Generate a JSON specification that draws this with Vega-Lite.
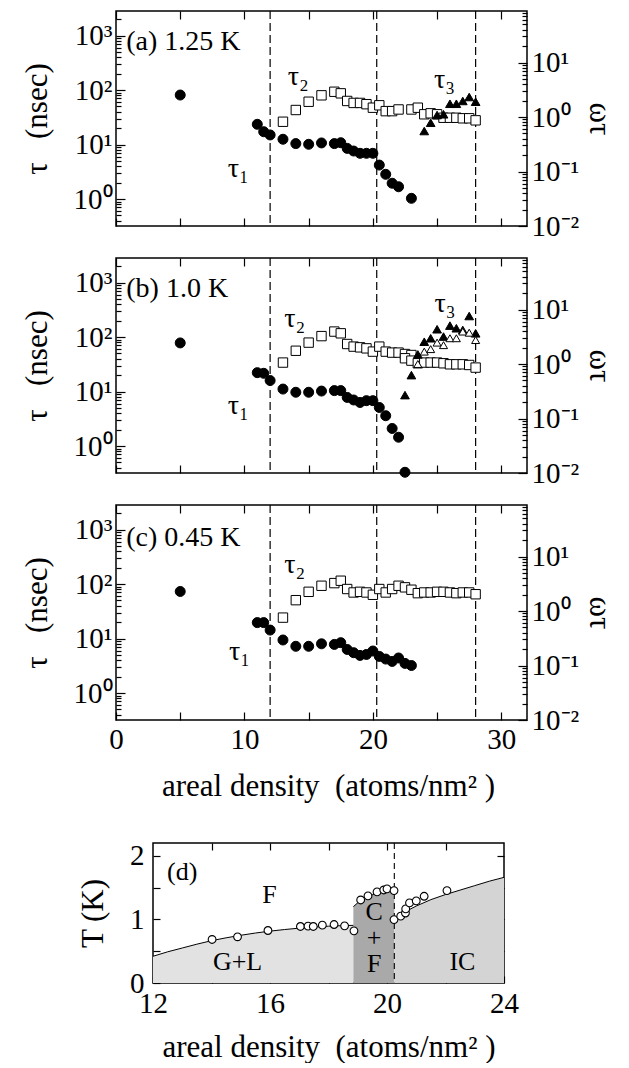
{
  "$schema": "https://vega.github.io/schema/vega-lite/v6.json",
  "background": "white",
  "padding": {"left": 20, "top": 9, "right": 0, "bottom": 0},
  "config": {
    "font": "Liberation Serif",
    "view": {"stroke": "black", "strokeWidth": 1.5},
    "axis": {
      "labelFont": "Liberation Serif", "titleFont": "Liberation Serif",
      "labelColor": "black", "titleColor": "black", "tickColor": "black",
      "grid": false, "domain": false, "titleFontWeight": "normal",
      "labelFontSize": 29, "titleFontSize": 31, "tickWidth": 1.2,
      "labelFlush": false, "labelOverlap": false
    },
    "title": {"font": "Liberation Serif", "fontSize": 31, "fontWeight": "normal", "color": "black"},
    "text": {"font": "Liberation Serif", "color": "black"}
  },
  "datasets": {
    "dash": [{"x": 12}, {"x": 20.3}, {"x": 28}],
    "dline": [{"x": 20.25}],
    "tau": [
      {"panel":"a","s":"t1","x":5,"tau":81},{"panel":"a","s":"t1","x":11,"tau":23.5},{"panel":"a","s":"t1","x":11.5,"tau":17.2},{"panel":"a","s":"t1","x":12,"tau":15},{"panel":"a","s":"t1","x":13,"tau":12.5},{"panel":"a","s":"t1","x":14,"tau":10.4},{"panel":"a","s":"t1","x":15,"tau":10.1},{"panel":"a","s":"t1","x":16,"tau":10.7},{"panel":"a","s":"t1","x":17,"tau":10.4},{"panel":"a","s":"t1","x":17.5,"tau":10.8},{"panel":"a","s":"t1","x":18,"tau":8.5},{"panel":"a","s":"t1","x":18.5,"tau":7.6},{"panel":"a","s":"t1","x":19,"tau":6.9},{"panel":"a","s":"t1","x":19.5,"tau":6.9},{"panel":"a","s":"t1","x":20,"tau":6.9},{"panel":"a","s":"t1","x":20.5,"tau":4.2},{"panel":"a","s":"t1","x":21,"tau":2.84},{"panel":"a","s":"t1","x":21.5,"tau":1.95},{"panel":"a","s":"t1","x":22,"tau":1.68},{"panel":"a","s":"t1","x":23,"tau":1.03},
      {"panel":"a","s":"t2","x":13,"tau":26.2},{"panel":"a","s":"t2","x":14,"tau":43},{"panel":"a","s":"t2","x":15,"tau":61},{"panel":"a","s":"t2","x":16,"tau":80},{"panel":"a","s":"t2","x":17,"tau":93},{"panel":"a","s":"t2","x":17.5,"tau":87},{"panel":"a","s":"t2","x":18,"tau":63},{"panel":"a","s":"t2","x":18.5,"tau":58},{"panel":"a","s":"t2","x":19,"tau":58},{"panel":"a","s":"t2","x":19.5,"tau":55},{"panel":"a","s":"t2","x":20,"tau":47.4},{"panel":"a","s":"t2","x":20.5,"tau":52.5},{"panel":"a","s":"t2","x":21,"tau":41},{"panel":"a","s":"t2","x":21.5,"tau":41},{"panel":"a","s":"t2","x":22,"tau":44},{"panel":"a","s":"t2","x":23,"tau":44},{"panel":"a","s":"t2","x":23.5,"tau":47.4},{"panel":"a","s":"t2","x":24,"tau":35.9},{"panel":"a","s":"t2","x":24.5,"tau":37.4},{"panel":"a","s":"t2","x":25,"tau":35.9},{"panel":"a","s":"t2","x":25.5,"tau":31},{"panel":"a","s":"t2","x":26,"tau":31},{"panel":"a","s":"t2","x":26.5,"tau":31},{"panel":"a","s":"t2","x":27,"tau":30.3},{"panel":"a","s":"t2","x":27.5,"tau":30.3},{"panel":"a","s":"t2","x":28,"tau":27.8},
      {"panel":"a","s":"t3","x":24,"tau":17.7},{"panel":"a","s":"t3","x":24.5,"tau":25.1},{"panel":"a","s":"t3","x":25,"tau":34.8},{"panel":"a","s":"t3","x":25.5,"tau":35.9},{"panel":"a","s":"t3","x":26,"tau":56},{"panel":"a","s":"t3","x":26.5,"tau":56},{"panel":"a","s":"t3","x":27,"tau":63},{"panel":"a","s":"t3","x":27.5,"tau":74.5},{"panel":"a","s":"t3","x":28,"tau":61},
      {"panel":"b","s":"t1","x":5,"tau":78},{"panel":"b","s":"t1","x":11,"tau":22.2},{"panel":"b","s":"t1","x":11.5,"tau":21.6},{"panel":"b","s":"t1","x":12,"tau":15.9},{"panel":"b","s":"t1","x":13,"tau":11.1},{"panel":"b","s":"t1","x":14,"tau":9.7},{"panel":"b","s":"t1","x":15,"tau":9.7},{"panel":"b","s":"t1","x":16,"tau":10.2},{"panel":"b","s":"t1","x":17,"tau":10.4},{"panel":"b","s":"t1","x":17.5,"tau":10.4},{"panel":"b","s":"t1","x":18,"tau":7.8},{"panel":"b","s":"t1","x":18.5,"tau":7.0},{"panel":"b","s":"t1","x":19,"tau":6.3},{"panel":"b","s":"t1","x":19.5,"tau":6.8},{"panel":"b","s":"t1","x":20,"tau":6.8},{"panel":"b","s":"t1","x":20.5,"tau":5.1},{"panel":"b","s":"t1","x":21,"tau":3.6},{"panel":"b","s":"t1","x":21.5,"tau":2.1},{"panel":"b","s":"t1","x":22,"tau":1.45},{"panel":"b","s":"t1","x":22.5,"tau":0.33},
      {"panel":"b","s":"t2","x":13,"tau":34},{"panel":"b","s":"t2","x":14,"tau":56},{"panel":"b","s":"t2","x":15,"tau":79},{"panel":"b","s":"t2","x":16,"tau":104},{"panel":"b","s":"t2","x":17,"tau":126},{"panel":"b","s":"t2","x":17.5,"tau":117},{"panel":"b","s":"t2","x":18,"tau":74.5},{"panel":"b","s":"t2","x":18.5,"tau":66.7},{"panel":"b","s":"t2","x":19,"tau":64.7},{"panel":"b","s":"t2","x":19.5,"tau":62},{"panel":"b","s":"t2","x":20,"tau":54},{"panel":"b","s":"t2","x":20.5,"tau":66.7},{"panel":"b","s":"t2","x":21,"tau":54},{"panel":"b","s":"t2","x":21.5,"tau":51.8},{"panel":"b","s":"t2","x":22,"tau":51.8},{"panel":"b","s":"t2","x":22.5,"tau":48.8},{"panel":"b","s":"t2","x":23,"tau":46.8},{"panel":"b","s":"t2","x":22.5,"tau":40.8},{"panel":"b","s":"t2","x":23,"tau":36.9},{"panel":"b","s":"t2","x":23.5,"tau":33},{"panel":"b","s":"t2","x":24,"tau":34},{"panel":"b","s":"t2","x":24.5,"tau":34},{"panel":"b","s":"t2","x":25,"tau":34},{"panel":"b","s":"t2","x":25.5,"tau":33},{"panel":"b","s":"t2","x":26,"tau":31.6},{"panel":"b","s":"t2","x":26.5,"tau":31.6},{"panel":"b","s":"t2","x":27,"tau":31.6},{"panel":"b","s":"t2","x":27.5,"tau":30.7},{"panel":"b","s":"t2","x":28,"tau":27.5},
      {"panel":"b","s":"t3","x":22.5,"tau":8.6},{"panel":"b","s":"t3","x":23,"tau":20},{"panel":"b","s":"t3","x":23.5,"tau":48},{"panel":"b","s":"t3","x":24,"tau":82},{"panel":"b","s":"t3","x":24.5,"tau":95},{"panel":"b","s":"t3","x":25,"tau":139},{"panel":"b","s":"t3","x":25.5,"tau":102},{"panel":"b","s":"t3","x":26,"tau":162},{"panel":"b","s":"t3","x":26.5,"tau":145},{"panel":"b","s":"t3","x":27,"tau":135},{"panel":"b","s":"t3","x":27.5,"tau":243},{"panel":"b","s":"t3","x":28,"tau":117},
      {"panel":"b","s":"t3o","x":23.5,"tau":32},{"panel":"b","s":"t3o","x":24,"tau":54},{"panel":"b","s":"t3o","x":24.5,"tau":60},{"panel":"b","s":"t3o","x":25,"tau":79},{"panel":"b","s":"t3o","x":25.5,"tau":71},{"panel":"b","s":"t3o","x":26,"tau":95},{"panel":"b","s":"t3o","x":26.5,"tau":95},{"panel":"b","s":"t3o","x":27,"tau":126},{"panel":"b","s":"t3o","x":27.5,"tau":120},{"panel":"b","s":"t3o","x":28,"tau":88},
      {"panel":"c","s":"t1","x":5,"tau":73},{"panel":"c","s":"t1","x":11,"tau":19.6},{"panel":"c","s":"t1","x":11.5,"tau":19.6},{"panel":"c","s":"t1","x":12,"tau":14.3},{"panel":"c","s":"t1","x":13,"tau":9.4},{"panel":"c","s":"t1","x":14,"tau":7.2},{"panel":"c","s":"t1","x":15,"tau":7.2},{"panel":"c","s":"t1","x":16,"tau":8.0},{"panel":"c","s":"t1","x":17,"tau":7.8},{"panel":"c","s":"t1","x":17.5,"tau":8.4},{"panel":"c","s":"t1","x":18,"tau":6.3},{"panel":"c","s":"t1","x":18.5,"tau":5.5},{"panel":"c","s":"t1","x":19,"tau":4.9},{"panel":"c","s":"t1","x":19.5,"tau":5.1},{"panel":"c","s":"t1","x":20,"tau":5.9},{"panel":"c","s":"t1","x":20.5,"tau":4.7},{"panel":"c","s":"t1","x":21,"tau":4.2},{"panel":"c","s":"t1","x":21.5,"tau":3.8},{"panel":"c","s":"t1","x":22,"tau":4.4},{"panel":"c","s":"t1","x":22.5,"tau":3.5},{"panel":"c","s":"t1","x":23,"tau":3.2},
      {"panel":"c","s":"t2","x":13,"tau":24.2},{"panel":"c","s":"t2","x":14,"tau":50.6},{"panel":"c","s":"t2","x":15,"tau":72},{"panel":"c","s":"t2","x":16,"tau":93},{"panel":"c","s":"t2","x":17,"tau":104},{"panel":"c","s":"t2","x":17.5,"tau":115},{"panel":"c","s":"t2","x":18,"tau":81},{"panel":"c","s":"t2","x":18.5,"tau":70},{"panel":"c","s":"t2","x":19,"tau":72},{"panel":"c","s":"t2","x":19.5,"tau":70},{"panel":"c","s":"t2","x":20,"tau":63.5},{"panel":"c","s":"t2","x":20.5,"tau":81},{"panel":"c","s":"t2","x":21,"tau":70},{"panel":"c","s":"t2","x":21.5,"tau":81},{"panel":"c","s":"t2","x":22,"tau":93},{"panel":"c","s":"t2","x":22.5,"tau":87},{"panel":"c","s":"t2","x":23,"tau":78.6},{"panel":"c","s":"t2","x":23.5,"tau":68},{"panel":"c","s":"t2","x":24,"tau":70},{"panel":"c","s":"t2","x":24.5,"tau":70},{"panel":"c","s":"t2","x":25,"tau":72},{"panel":"c","s":"t2","x":25.5,"tau":72},{"panel":"c","s":"t2","x":26,"tau":70},{"panel":"c","s":"t2","x":26.5,"tau":68},{"panel":"c","s":"t2","x":27,"tau":70},{"panel":"c","s":"t2","x":27.5,"tau":70},{"panel":"c","s":"t2","x":28,"tau":65}
    ],
    "ann": [
      {"panel":"a","x":0.8,"y":750,"text":"(a) 1.25 K"},{"panel":"a","x":8.7,"y":3.5,"text":"τ₁"},{"panel":"a","x":13.37,"y":175,"text":"τ₂"},{"panel":"a","x":24.75,"y":150,"text":"τ₃"},
      {"panel":"b","x":0.8,"y":750,"text":"(b) 1.0 K"},{"panel":"b","x":8.7,"y":5.5,"text":"τ₁"},{"panel":"b","x":13.1,"y":214,"text":"τ₂"},{"panel":"b","x":24.8,"y":404,"text":"τ₃"},
      {"panel":"c","x":0.8,"y":700,"text":"(c) 0.45 K"},{"panel":"c","x":8.8,"y":5.7,"text":"τ₁"},{"panel":"c","x":13.1,"y":220,"text":"τ₂"}
    ],
    "phase": [
      {"region":"GL","x":12,"T":0.42},{"region":"GL","x":12.5,"T":0.49},{"region":"GL","x":13,"T":0.55},{"region":"GL","x":13.5,"T":0.61},{"region":"GL","x":14,"T":0.665},{"region":"GL","x":14.5,"T":0.71},{"region":"GL","x":15,"T":0.75},{"region":"GL","x":15.5,"T":0.785},{"region":"GL","x":16,"T":0.815},{"region":"GL","x":16.5,"T":0.84},{"region":"GL","x":17,"T":0.862},{"region":"GL","x":17.5,"T":0.88},{"region":"GL","x":18,"T":0.893},{"region":"GL","x":18.5,"T":0.902},{"region":"GL","x":18.85,"T":0.906},
      {"region":"CF","x":18.85,"T":1.2},{"region":"CF","x":19.1,"T":1.3},{"region":"CF","x":19.35,"T":1.36},{"region":"CF","x":19.65,"T":1.41},{"region":"CF","x":19.9,"T":1.44},{"region":"CF","x":20.25,"T":1.46},
      {"region":"IC","x":20.25,"T":0.98},{"region":"IC","x":20.5,"T":1.07},{"region":"IC","x":20.75,"T":1.15},{"region":"IC","x":21,"T":1.21},{"region":"IC","x":21.5,"T":1.31},{"region":"IC","x":22,"T":1.39},{"region":"IC","x":22.5,"T":1.46},{"region":"IC","x":23,"T":1.53},{"region":"IC","x":23.5,"T":1.6},{"region":"IC","x":24,"T":1.66}
    ],
    "dpts": [
      {"x":14.02,"T":0.684},{"x":14.89,"T":0.726},{"x":15.93,"T":0.825},{"x":17.04,"T":0.888},{"x":17.3,"T":0.893},{"x":17.48,"T":0.888},{"x":17.79,"T":0.909},{"x":18.19,"T":0.919},{"x":18.55,"T":0.898},{"x":18.87,"T":0.82},
      {"x":19.1,"T":1.305},{"x":19.35,"T":1.368},{"x":19.66,"T":1.431},{"x":19.89,"T":1.462},{"x":20.0,"T":1.478},{"x":20.24,"T":1.452},
      {"x":20.24,"T":0.997},{"x":20.47,"T":1.05},{"x":20.63,"T":1.1},{"x":20.64,"T":1.164},{"x":20.77,"T":1.258},{"x":21.0,"T":1.29},{"x":21.27,"T":1.363},{"x":22.05,"T":1.452}
    ],
    "dann": [
      {"x":13.0,"T":1.75,"text":"(d)"},{"x":15.98,"T":1.38,"text":"F"},{"x":19.56,"T":1.12,"text":"C"},{"x":19.56,"T":0.71,"text":"+"},{"x":19.56,"T":0.3,"text":"F"},{"x":14.89,"T":0.33,"text":"G+L"},{"x":22.58,"T":0.33,"text":"IC"}
    ]
  },
  "spacing": 14,
  "vconcat": [
    {
      "width": 411, "height": 215,
      "layer": [
        {"data": {"name": "dash"}, "mark": {"type": "rule", "strokeDash": [8, 4], "strokeWidth": 1.2, "color": "black"},
         "encoding": {"x": {"field": "x", "type": "quantitative", "scale": {"domain": [0, 32], "nice": false, "zero": false},
           "axis": {"orient": "bottom", "values": [0,5,10,15,20,25,30], "tickSize": -8, "labels": false, "title": null}}}},
        {"data": {"name": "tau"}, "transform": [{"filter": "datum.panel === 'a'"}],
         "mark": {"type": "point", "filled": true, "stroke": "black", "strokeWidth": 1, "opacity": 1},
         "encoding": {
           "x": {"field": "x", "type": "quantitative", "scale": {"domain": [0, 32], "nice": false, "zero": false}, "axis": {"orient": "top", "values": [0,5,10,15,20,25,30], "tickSize": -8, "labels": false, "title": null}},
           "y": {"field": "tau", "type": "quantitative", "scale": {"type": "log", "domain": [0.32, 2820], "nice": false},
             "axis": {"orient": "left", "values": [1, 10, 100, 1000], "labelExpr": "datum.value >= 999 ? '10³' : datum.value >= 99 ? '10²' : datum.value >= 9 ? '10¹' : '10⁰'", "tickSize": -9, "labelPadding": 13, "title": "τ\u00a0\u00a0\u00a0(nsec)", "titlePadding": 20}},
           "shape": {"field": "s", "type": "nominal", "scale": {"domain": ["t1","t2","t3","t3o"], "range": ["circle","square","triangle-up","triangle-up"]}, "legend": null},
           "fill": {"field": "s", "type": "nominal", "scale": {"domain": ["t1","t2","t3","t3o"], "range": ["black","white","black","white"]}, "legend": null},
           "size": {"field": "s", "type": "nominal", "scale": {"domain": ["t1","t2","t3","t3o"], "range": [100, 64, 85, 85]}, "legend": null}
         }},
        {"data": {"name": "ann"}, "transform": [{"filter": "datum.panel === 'a'"}],
         "mark": {"type": "text", "align": "left", "baseline": "middle", "fontSize": 28},
         "encoding": {"x": {"field": "x", "type": "quantitative", "scale": {"domain": [0, 32], "nice": false, "zero": false}, "axis": null},
           "y": {"field": "y", "type": "quantitative", "scale": {"type": "log", "domain": [0.32, 2820], "nice": false},
             "axis": {"orient": "left", "values": [0.4,0.5,0.6,0.7,0.8,0.9,2,3,4,5,6,7,8,9,20,30,40,50,60,70,80,90,200,300,400,500,600,700,800,900,2000], "tickSize": -5, "labels": false, "title": null}},
           "text": {"field": "text", "type": "nominal"}}},
        {"data": {"name": "tau"}, "transform": [{"filter": "datum.panel === 'a' && datum.tau < 80"}], "mark": {"type": "point", "opacity": 0},
         "encoding": {
           "x": {"field": "x", "type": "quantitative", "scale": {"domain": [0, 32], "nice": false, "zero": false}, "axis": null},
           "y": {"field": "tau", "type": "quantitative", "scale": {"type": "log", "domain": [0.01, 88.1], "nice": false},
             "axis": {"orient": "right", "values": [0.01, 0.1, 1, 10], "labelExpr": "datum.value >= 9 ? '10¹' : datum.value >= 0.9 ? '10⁰' : datum.value >= 0.09 ? '10⁻¹' : '10⁻²'", "tickSize": -9, "labelPadding": 13, "title": "ωτ", "titlePadding": 4}}}},
        {"data": {"name": "tau"}, "transform": [{"filter": "datum.panel === 'a' && datum.tau < 80"}], "mark": {"type": "point", "opacity": 0},
         "encoding": {
           "x": {"field": "x", "type": "quantitative", "scale": {"domain": [0, 32], "nice": false, "zero": false}, "axis": null},
           "y": {"field": "tau", "type": "quantitative", "scale": {"type": "log", "domain": [0.01, 88.1], "nice": false},
             "axis": {"orient": "right", "values": [0.02,0.03,0.04,0.05,0.06,0.07,0.08,0.09,0.2,0.3,0.4,0.5,0.6,0.7,0.8,0.9,2,3,4,5,6,7,8,9,20,30,40,50,60,70,80], "tickSize": -5, "labels": false, "title": null}}}}
      ],
      "resolve": {"scale": {"x": "independent", "y": "independent"}}
    },
    {
      "width": 411, "height": 215,
      "layer": [
        {"data": {"name": "dash"}, "mark": {"type": "rule", "strokeDash": [8, 4], "strokeWidth": 1.2, "color": "black"},
         "encoding": {"x": {"field": "x", "type": "quantitative", "scale": {"domain": [0, 32], "nice": false, "zero": false},
           "axis": {"orient": "bottom", "values": [0,5,10,15,20,25,30], "tickSize": -8, "labels": false, "title": null}}}},
        {"data": {"name": "tau"}, "transform": [{"filter": "datum.panel === 'b'"}],
         "mark": {"type": "point", "filled": true, "stroke": "black", "strokeWidth": 1, "opacity": 1},
         "encoding": {
           "x": {"field": "x", "type": "quantitative", "scale": {"domain": [0, 32], "nice": false, "zero": false}, "axis": {"orient": "top", "values": [0,5,10,15,20,25,30], "tickSize": -8, "labels": false, "title": null}},
           "y": {"field": "tau", "type": "quantitative", "scale": {"type": "log", "domain": [0.32, 2820], "nice": false},
             "axis": {"orient": "left", "values": [1, 10, 100, 1000], "labelExpr": "datum.value >= 999 ? '10³' : datum.value >= 99 ? '10²' : datum.value >= 9 ? '10¹' : '10⁰'", "tickSize": -9, "labelPadding": 13, "title": "τ\u00a0\u00a0\u00a0(nsec)", "titlePadding": 20}},
           "shape": {"field": "s", "type": "nominal", "scale": {"domain": ["t1","t2","t3","t3o"], "range": ["circle","square","triangle-up","triangle-up"]}, "legend": null},
           "fill": {"field": "s", "type": "nominal", "scale": {"domain": ["t1","t2","t3","t3o"], "range": ["black","white","black","white"]}, "legend": null},
           "size": {"field": "s", "type": "nominal", "scale": {"domain": ["t1","t2","t3","t3o"], "range": [100, 64, 85, 85]}, "legend": null}
         }},
        {"data": {"name": "ann"}, "transform": [{"filter": "datum.panel === 'b'"}],
         "mark": {"type": "text", "align": "left", "baseline": "middle", "fontSize": 28},
         "encoding": {"x": {"field": "x", "type": "quantitative", "scale": {"domain": [0, 32], "nice": false, "zero": false}, "axis": null},
           "y": {"field": "y", "type": "quantitative", "scale": {"type": "log", "domain": [0.32, 2820], "nice": false},
             "axis": {"orient": "left", "values": [0.4,0.5,0.6,0.7,0.8,0.9,2,3,4,5,6,7,8,9,20,30,40,50,60,70,80,90,200,300,400,500,600,700,800,900,2000], "tickSize": -5, "labels": false, "title": null}},
           "text": {"field": "text", "type": "nominal"}}},
        {"data": {"name": "tau"}, "transform": [{"filter": "datum.panel === 'b' && datum.tau < 80"}], "mark": {"type": "point", "opacity": 0},
         "encoding": {
           "x": {"field": "x", "type": "quantitative", "scale": {"domain": [0, 32], "nice": false, "zero": false}, "axis": null},
           "y": {"field": "tau", "type": "quantitative", "scale": {"type": "log", "domain": [0.01, 88.1], "nice": false},
             "axis": {"orient": "right", "values": [0.01, 0.1, 1, 10], "labelExpr": "datum.value >= 9 ? '10¹' : datum.value >= 0.9 ? '10⁰' : datum.value >= 0.09 ? '10⁻¹' : '10⁻²'", "tickSize": -9, "labelPadding": 13, "title": "ωτ", "titlePadding": 4}}}},
        {"data": {"name": "tau"}, "transform": [{"filter": "datum.panel === 'b' && datum.tau < 80"}], "mark": {"type": "point", "opacity": 0},
         "encoding": {
           "x": {"field": "x", "type": "quantitative", "scale": {"domain": [0, 32], "nice": false, "zero": false}, "axis": null},
           "y": {"field": "tau", "type": "quantitative", "scale": {"type": "log", "domain": [0.01, 88.1], "nice": false},
             "axis": {"orient": "right", "values": [0.02,0.03,0.04,0.05,0.06,0.07,0.08,0.09,0.2,0.3,0.4,0.5,0.6,0.7,0.8,0.9,2,3,4,5,6,7,8,9,20,30,40,50,60,70,80], "tickSize": -5, "labels": false, "title": null}}}}
      ],
      "resolve": {"scale": {"x": "independent", "y": "independent"}}
    },
    {
      "width": 411, "height": 215,
      "layer": [
        {"data": {"name": "dash"}, "mark": {"type": "rule", "strokeDash": [8, 4], "strokeWidth": 1.2, "color": "black"},
         "encoding": {"x": {"field": "x", "type": "quantitative", "scale": {"domain": [0, 32], "nice": false, "zero": false},
           "axis": {"orient": "bottom", "values": [0,5,10,15,20,25,30], "labelExpr": "datum.value % 10 === 0 ? format(datum.value, 'd') : ''", "tickSize": -8, "labelPadding": 13, "title": null}}}},
        {"data": {"name": "tau"}, "transform": [{"filter": "datum.panel === 'c'"}],
         "mark": {"type": "point", "filled": true, "stroke": "black", "strokeWidth": 1, "opacity": 1},
         "encoding": {
           "x": {"field": "x", "type": "quantitative", "scale": {"domain": [0, 32], "nice": false, "zero": false}, "axis": {"orient": "top", "values": [0,5,10,15,20,25,30], "tickSize": -8, "labels": false, "title": null}},
           "y": {"field": "tau", "type": "quantitative", "scale": {"type": "log", "domain": [0.32, 2820], "nice": false},
             "axis": {"orient": "left", "values": [1, 10, 100, 1000], "labelExpr": "datum.value >= 999 ? '10³' : datum.value >= 99 ? '10²' : datum.value >= 9 ? '10¹' : '10⁰'", "tickSize": -9, "labelPadding": 13, "title": "τ\u00a0\u00a0\u00a0(nsec)", "titlePadding": 20}},
           "shape": {"field": "s", "type": "nominal", "scale": {"domain": ["t1","t2","t3","t3o"], "range": ["circle","square","triangle-up","triangle-up"]}, "legend": null},
           "fill": {"field": "s", "type": "nominal", "scale": {"domain": ["t1","t2","t3","t3o"], "range": ["black","white","black","white"]}, "legend": null},
           "size": {"field": "s", "type": "nominal", "scale": {"domain": ["t1","t2","t3","t3o"], "range": [100, 64, 85, 85]}, "legend": null}
         }},
        {"data": {"name": "ann"}, "transform": [{"filter": "datum.panel === 'c'"}],
         "mark": {"type": "text", "align": "left", "baseline": "middle", "fontSize": 28},
         "encoding": {"x": {"field": "x", "type": "quantitative", "scale": {"domain": [0, 32], "nice": false, "zero": false}, "axis": null},
           "y": {"field": "y", "type": "quantitative", "scale": {"type": "log", "domain": [0.32, 2820], "nice": false},
             "axis": {"orient": "left", "values": [0.4,0.5,0.6,0.7,0.8,0.9,2,3,4,5,6,7,8,9,20,30,40,50,60,70,80,90,200,300,400,500,600,700,800,900,2000], "tickSize": -5, "labels": false, "title": null}},
           "text": {"field": "text", "type": "nominal"}}},
        {"data": {"name": "tau"}, "transform": [{"filter": "datum.panel === 'c' && datum.tau < 80"}], "mark": {"type": "point", "opacity": 0},
         "encoding": {
           "x": {"field": "x", "type": "quantitative", "scale": {"domain": [0, 32], "nice": false, "zero": false}, "axis": null},
           "y": {"field": "tau", "type": "quantitative", "scale": {"type": "log", "domain": [0.01, 88.1], "nice": false},
             "axis": {"orient": "right", "values": [0.01, 0.1, 1, 10], "labelExpr": "datum.value >= 9 ? '10¹' : datum.value >= 0.9 ? '10⁰' : datum.value >= 0.09 ? '10⁻¹' : '10⁻²'", "tickSize": -9, "labelPadding": 13, "title": "ωτ", "titlePadding": 4}}}},
        {"data": {"name": "tau"}, "transform": [{"filter": "datum.panel === 'c' && datum.tau < 80"}], "mark": {"type": "point", "opacity": 0},
         "encoding": {
           "x": {"field": "x", "type": "quantitative", "scale": {"domain": [0, 32], "nice": false, "zero": false}, "axis": null},
           "y": {"field": "tau", "type": "quantitative", "scale": {"type": "log", "domain": [0.01, 88.1], "nice": false},
             "axis": {"orient": "right", "values": [0.02,0.03,0.04,0.05,0.06,0.07,0.08,0.09,0.2,0.3,0.4,0.5,0.6,0.7,0.8,0.9,2,3,4,5,6,7,8,9,20,30,40,50,60,70,80], "tickSize": -5, "labels": false, "title": null}}}}
      ],
      "resolve": {"scale": {"x": "independent", "y": "independent"}}
    },
    {
      "spacing": -44,
      "hconcat": [
        {"width": 1, "height": 140, "view": {"stroke": null, "fill": "white"}, "data": {"values": [{"k": 1}]},
         "mark": {"type": "point", "opacity": 0},
         "encoding": {"x": {"field": "k", "type": "quantitative", "axis": null}, "y": {"field": "k", "type": "quantitative", "axis": null}}},
        {
          "width": 351, "height": 140,
          "title": {"text": "areal density\u00a0\u00a0(atoms/nm²\u00a0)", "offset": 39},
          "layer": [
            {"data": {"name": "phase"}, "mark": {"type": "area", "opacity": 1},
             "encoding": {
               "x": {"field": "x", "type": "quantitative", "scale": {"domain": [12, 24], "nice": false, "zero": false},
                 "axis": {"orient": "bottom", "values": [12,14,16,18,20,22,24], "labelExpr": "datum.value % 4 === 0 ? format(datum.value, 'd') : ''", "tickSize": -7, "labelPadding": 13, "title": "areal density\u00a0\u00a0(atoms/nm²\u00a0)", "titlePadding": 14}},
               "y": {"field": "T", "type": "quantitative", "stack": null, "scale": {"domain": [0, 2.2], "nice": false},
                 "axis": {"orient": "left", "values": [0, 0.5, 1, 1.5, 2], "labelExpr": "datum.value === 0 ? '0' : datum.value === 1 ? '1' : datum.value === 2 ? '2' : ''", "tickSize": -7, "labelPadding": 16, "title": "T (K)", "titlePadding": 20}},
               "color": {"field": "region", "type": "nominal", "scale": {"domain": ["GL", "CF", "IC"], "range": ["#e2e2e2", "#a9a9a9", "#d4d4d4"]}, "legend": null}
             }},
            {"data": {"name": "phase"}, "mark": {"type": "line", "color": "black", "strokeWidth": 1},
             "encoding": {"x": {"field": "x", "type": "quantitative", "scale": {"domain": [12, 24], "nice": false, "zero": false}, "axis": null},
               "y": {"field": "T", "type": "quantitative", "scale": {"domain": [0, 2.2], "nice": false}, "axis": null},
               "detail": {"field": "region", "type": "nominal"}}},
            {"data": {"name": "dline"}, "mark": {"type": "rule", "strokeDash": [6, 4], "strokeWidth": 1.1, "color": "black"},
             "encoding": {"x": {"field": "x", "type": "quantitative", "scale": {"domain": [12, 24], "nice": false, "zero": false}, "axis": null}}},
            {"data": {"name": "dpts"}, "mark": {"type": "point", "filled": true, "fill": "white", "stroke": "black", "strokeWidth": 1.1, "size": 60, "opacity": 1},
             "encoding": {"x": {"field": "x", "type": "quantitative", "scale": {"domain": [12, 24], "nice": false, "zero": false}, "axis": null},
               "y": {"field": "T", "type": "quantitative", "scale": {"domain": [0, 2.2], "nice": false}, "axis": null}}},
            {"data": {"name": "dann"}, "mark": {"type": "text", "align": "center", "baseline": "middle", "fontSize": 26},
             "encoding": {"x": {"field": "x", "type": "quantitative", "scale": {"domain": [12, 24], "nice": false, "zero": false}, "axis": null},
               "y": {"field": "T", "type": "quantitative", "scale": {"domain": [0, 2.2], "nice": false}, "axis": null},
               "text": {"field": "text", "type": "nominal"}}},
            {"data": {"name": "dpts"}, "mark": {"type": "point", "opacity": 0},
             "encoding": {
               "x": {"field": "x", "type": "quantitative", "scale": {"domain": [12, 24], "nice": false, "zero": false}, "axis": {"orient": "top", "values": [14,16,18,20,22], "tickSize": -7, "labels": false, "title": null}},
               "y": {"field": "T", "type": "quantitative", "scale": {"domain": [0, 2.2], "nice": false}, "axis": {"orient": "right", "values": [0.5, 1, 1.5, 2], "tickSize": -7, "labels": false, "title": null}}}}
          ],
          "resolve": {"scale": {"x": "independent", "y": "independent"}}
        }
      ]
    }
  ]
}
